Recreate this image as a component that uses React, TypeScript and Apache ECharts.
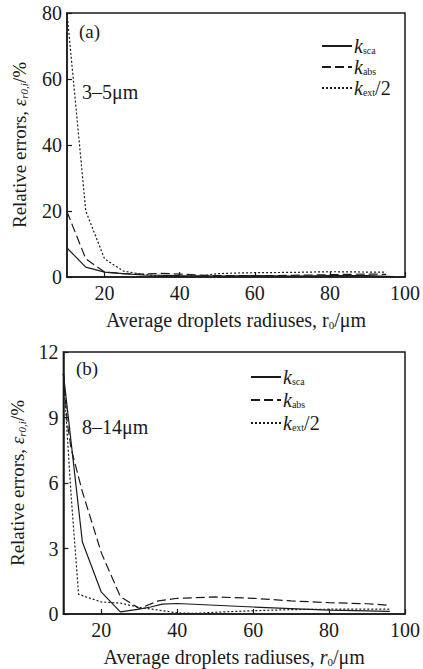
import React, { useEffect, useRef } from 'react';
import * as echarts from 'echarts';

// Panel (a): 3–5 μm
const aScaX = [10, 15, 20, 25, 30, 40, 50, 60, 70, 80, 90, 97];
const aScaY = [8.8, 3.0, 1.5, 1.0, 0.6, 0.4, 0.3, 0.4, 0.3, 0.4, 0.4, 0.1];
const aAbsX = [10, 15, 20, 25, 30, 35, 40, 45, 50, 60, 70, 80, 90, 95];
const aAbsY = [19.8, 5.5, 1.5, 1.0, 0.9, 1.1, 0.9, 0.6, 0.4, 0.4, 0.5, 0.7, 0.9, 0.8];
const aExtX = [10, 15, 20, 25, 30, 35, 40, 45, 50, 55, 60, 70, 80, 90, 95];
const aExtY = [80, 20, 5.5, 1.8, 0.8, 0.3, 0.2, 0.2, 1.0, 1.2, 1.3, 1.4, 1.6, 1.5, 1.5];

// Panel (b): 8–14 μm
const bScaX = [10, 15, 20, 25, 30, 33, 36, 40, 50, 60, 70, 80, 90, 96];
const bScaY = [11, 3.3, 1.0, 0.1, 0.22, 0.32, 0.45, 0.48, 0.4, 0.32, 0.25, 0.18, 0.14, 0.12];
const bAbsX = [10, 11, 12, 15, 20, 25, 30, 35, 40, 50, 60, 70, 80, 90, 96];
const bAbsY = [11, 8.8, 7.6, 5.6, 2.8, 0.8, 0.25, 0.6, 0.72, 0.78, 0.72, 0.6, 0.52, 0.47, 0.4];
const bExtX = [10, 12, 14, 20, 25, 30, 35, 40, 45, 50, 60, 70, 80, 96];
const bExtY = [11, 5.5, 0.9, 0.55, 0.5, 0.3, 0.18, 0.05, 0.03, 0.08, 0.15, 0.2, 0.22, 0.22];

const xMin = 10;
const xMax = 100;
const aYMax = 80;
const aYInterval = 20;
const bYMax = 12;
const bYInterval = 3;

const FONT = 'Liberation Serif';
const INK = '#1a1a1a';

const pairs = (x: number[], y: number[]) => x.map((v, i) => [v, y[i]]);

const legendNames: Record<string, string> = {
  a_sca: '{k|k}{s|sca}',
  a_abs: '{k|k}{s|abs}',
  a_ext: '{k|k}{s|ext}{n|/2}',
  b_sca: '{k|k}{s|sca}',
  b_abs: '{k|k}{s|abs}',
  b_ext: '{k|k}{s|ext}{n|/2}',
};

const richLegend = {
  k: { fontFamily: FONT, fontStyle: 'italic', fontSize: 20, color: INK, lineHeight: 18, verticalAlign: 'middle' },
  s: { fontFamily: FONT, fontSize: 10, color: INK, lineHeight: 10, verticalAlign: 'bottom' },
  n: { fontFamily: FONT, fontSize: 20, color: INK, lineHeight: 18, verticalAlign: 'middle' },
};

function richAxis(size: number) {
  return {
    e: { fontFamily: FONT, fontStyle: 'italic', fontSize: size, color: INK, lineHeight: 20, verticalAlign: 'middle' },
    s: { fontFamily: FONT, fontStyle: 'italic', fontSize: 11, color: INK, lineHeight: 10, verticalAlign: 'bottom' },
    n: { fontFamily: FONT, fontSize: size, color: INK, lineHeight: 20, verticalAlign: 'middle' },
    r: { fontFamily: FONT, fontStyle: 'italic', fontSize: size, color: INK, lineHeight: 20, verticalAlign: 'middle' },
    z: { fontFamily: FONT, fontSize: 11, color: INK, lineHeight: 10, verticalAlign: 'bottom' },
  };
}

function xAxisCfg(gridIndex: number, italicR: boolean) {
  return {
    type: 'value',
    gridIndex,
    min: xMin,
    max: xMax,
    name: italicR
      ? '{n|Average droplets radiuses, }{r|r}{z|0}{n|/μm}'
      : '{n|Average droplets radiuses, r}{z|0}{n|/μm}',
    nameLocation: 'middle',
    nameGap: 33,
    nameTextStyle: { fontFamily: FONT, fontSize: 20, color: INK, rich: richAxis(20) },
    axisLine: { show: true, lineStyle: { color: INK, width: 1.5 } },
    axisTick: { show: true, inside: true, length: 5, lineStyle: { color: INK, width: 1.2 } },
    axisLabel: { showMinLabel: false, fontFamily: FONT, fontSize: 20, color: INK, margin: 6 },
    splitLine: { show: false },
  };
}

function yAxisCfg(gridIndex: number, max: number, interval: number, gap: number) {
  return {
    type: 'value',
    gridIndex,
    min: 0,
    max,
    interval,
    name: '{n|Relative errors, }{e|ε}{s|r0,i}{n|/%}',
    nameLocation: 'middle',
    nameGap: gap,
    nameTextStyle: { fontFamily: FONT, fontSize: 19, color: INK, rich: richAxis(19) },
    axisLine: { show: true, lineStyle: { color: INK, width: 1.5 } },
    axisTick: { show: true, inside: true, length: 5, lineStyle: { color: INK, width: 1.2 } },
    axisLabel: { fontFamily: FONT, fontSize: 20, color: INK, margin: 5 },
    splitLine: { show: false },
  };
}

function lineSeries(name: string, idx: number, x: number[], y: number[], type: any) {
  return {
    type: 'line',
    name,
    xAxisIndex: idx,
    yAxisIndex: idx,
    data: pairs(x, y),
    symbol: 'none',
    lineStyle: { color: INK, width: 1.2, type },
    itemStyle: { color: INK },
  };
}

function legendCfg(names: string[], left: number, top: number, gap: number) {
  return {
    data: names,
    orient: 'vertical',
    left,
    top,
    itemWidth: 30,
    itemHeight: 10,
    itemGap: gap,
    padding: 0,
    selectedMode: false,
    formatter: (n: string) => legendNames[n],
    itemStyle: { opacity: 0 },
    textStyle: { fontFamily: FONT, rich: richLegend, padding: [0, 0, 0, -3] },
  };
}

export default function App() {
  const ref = useRef<HTMLDivElement>(null);
  useEffect(() => {
    if (!ref.current) return;
    const chart = echarts.init(ref.current, undefined, { renderer: 'svg' });
    const dashed = [9, 4];
    const dotted = [2, 2];
    chart.setOption({
      animation: false,
      backgroundColor: '#fff',
      textStyle: { fontFamily: FONT },
      grid: [
        { left: 67, top: 13, width: 340, height: 264, show: true, borderColor: INK, borderWidth: 1.5, backgroundColor: 'transparent' },
        { left: 63, top: 352, width: 342, height: 262, show: true, borderColor: INK, borderWidth: 1.5, backgroundColor: 'transparent' },
      ],
      xAxis: [xAxisCfg(0, false), xAxisCfg(1, true)],
      yAxis: [yAxisCfg(0, aYMax, aYInterval, 38), yAxisCfg(1, bYMax, bYInterval, 32)],
      legend: [
        legendCfg(['a_sca', 'a_abs', 'a_ext'], 321, 36, 1),
        legendCfg(['b_sca', 'b_abs', 'b_ext'], 250, 367, 3),
      ],
      graphic: [
        { type: 'text', left: 79, top: 22, style: { text: '(a)', font: `19px ${FONT}`, fill: INK } },
        { type: 'text', left: 82, top: 82, style: { text: '3–5μm', font: `20px ${FONT}`, fill: INK } },
        { type: 'text', left: 76, top: 359, style: { text: '(b)', font: `19px ${FONT}`, fill: INK } },
        { type: 'text', left: 82, top: 417, style: { text: '8–14μm', font: `20px ${FONT}`, fill: INK } },
      ],
      series: [
        lineSeries('a_sca', 0, aScaX, aScaY, 'solid'),
        lineSeries('a_abs', 0, aAbsX, aAbsY, dashed),
        lineSeries('a_ext', 0, aExtX, aExtY, dotted),
        lineSeries('b_sca', 1, bScaX, bScaY, 'solid'),
        lineSeries('b_abs', 1, bAbsX, bAbsY, dashed),
        lineSeries('b_ext', 1, bExtX, bExtY, dotted),
      ],
    });
    return () => chart.dispose();
  }, []);
  return (
    <div
      ref={ref}
      style={{ position: 'absolute', left: 0, top: 0, width: 423, height: 669, background: '#fff' }}
    />
  );
}
